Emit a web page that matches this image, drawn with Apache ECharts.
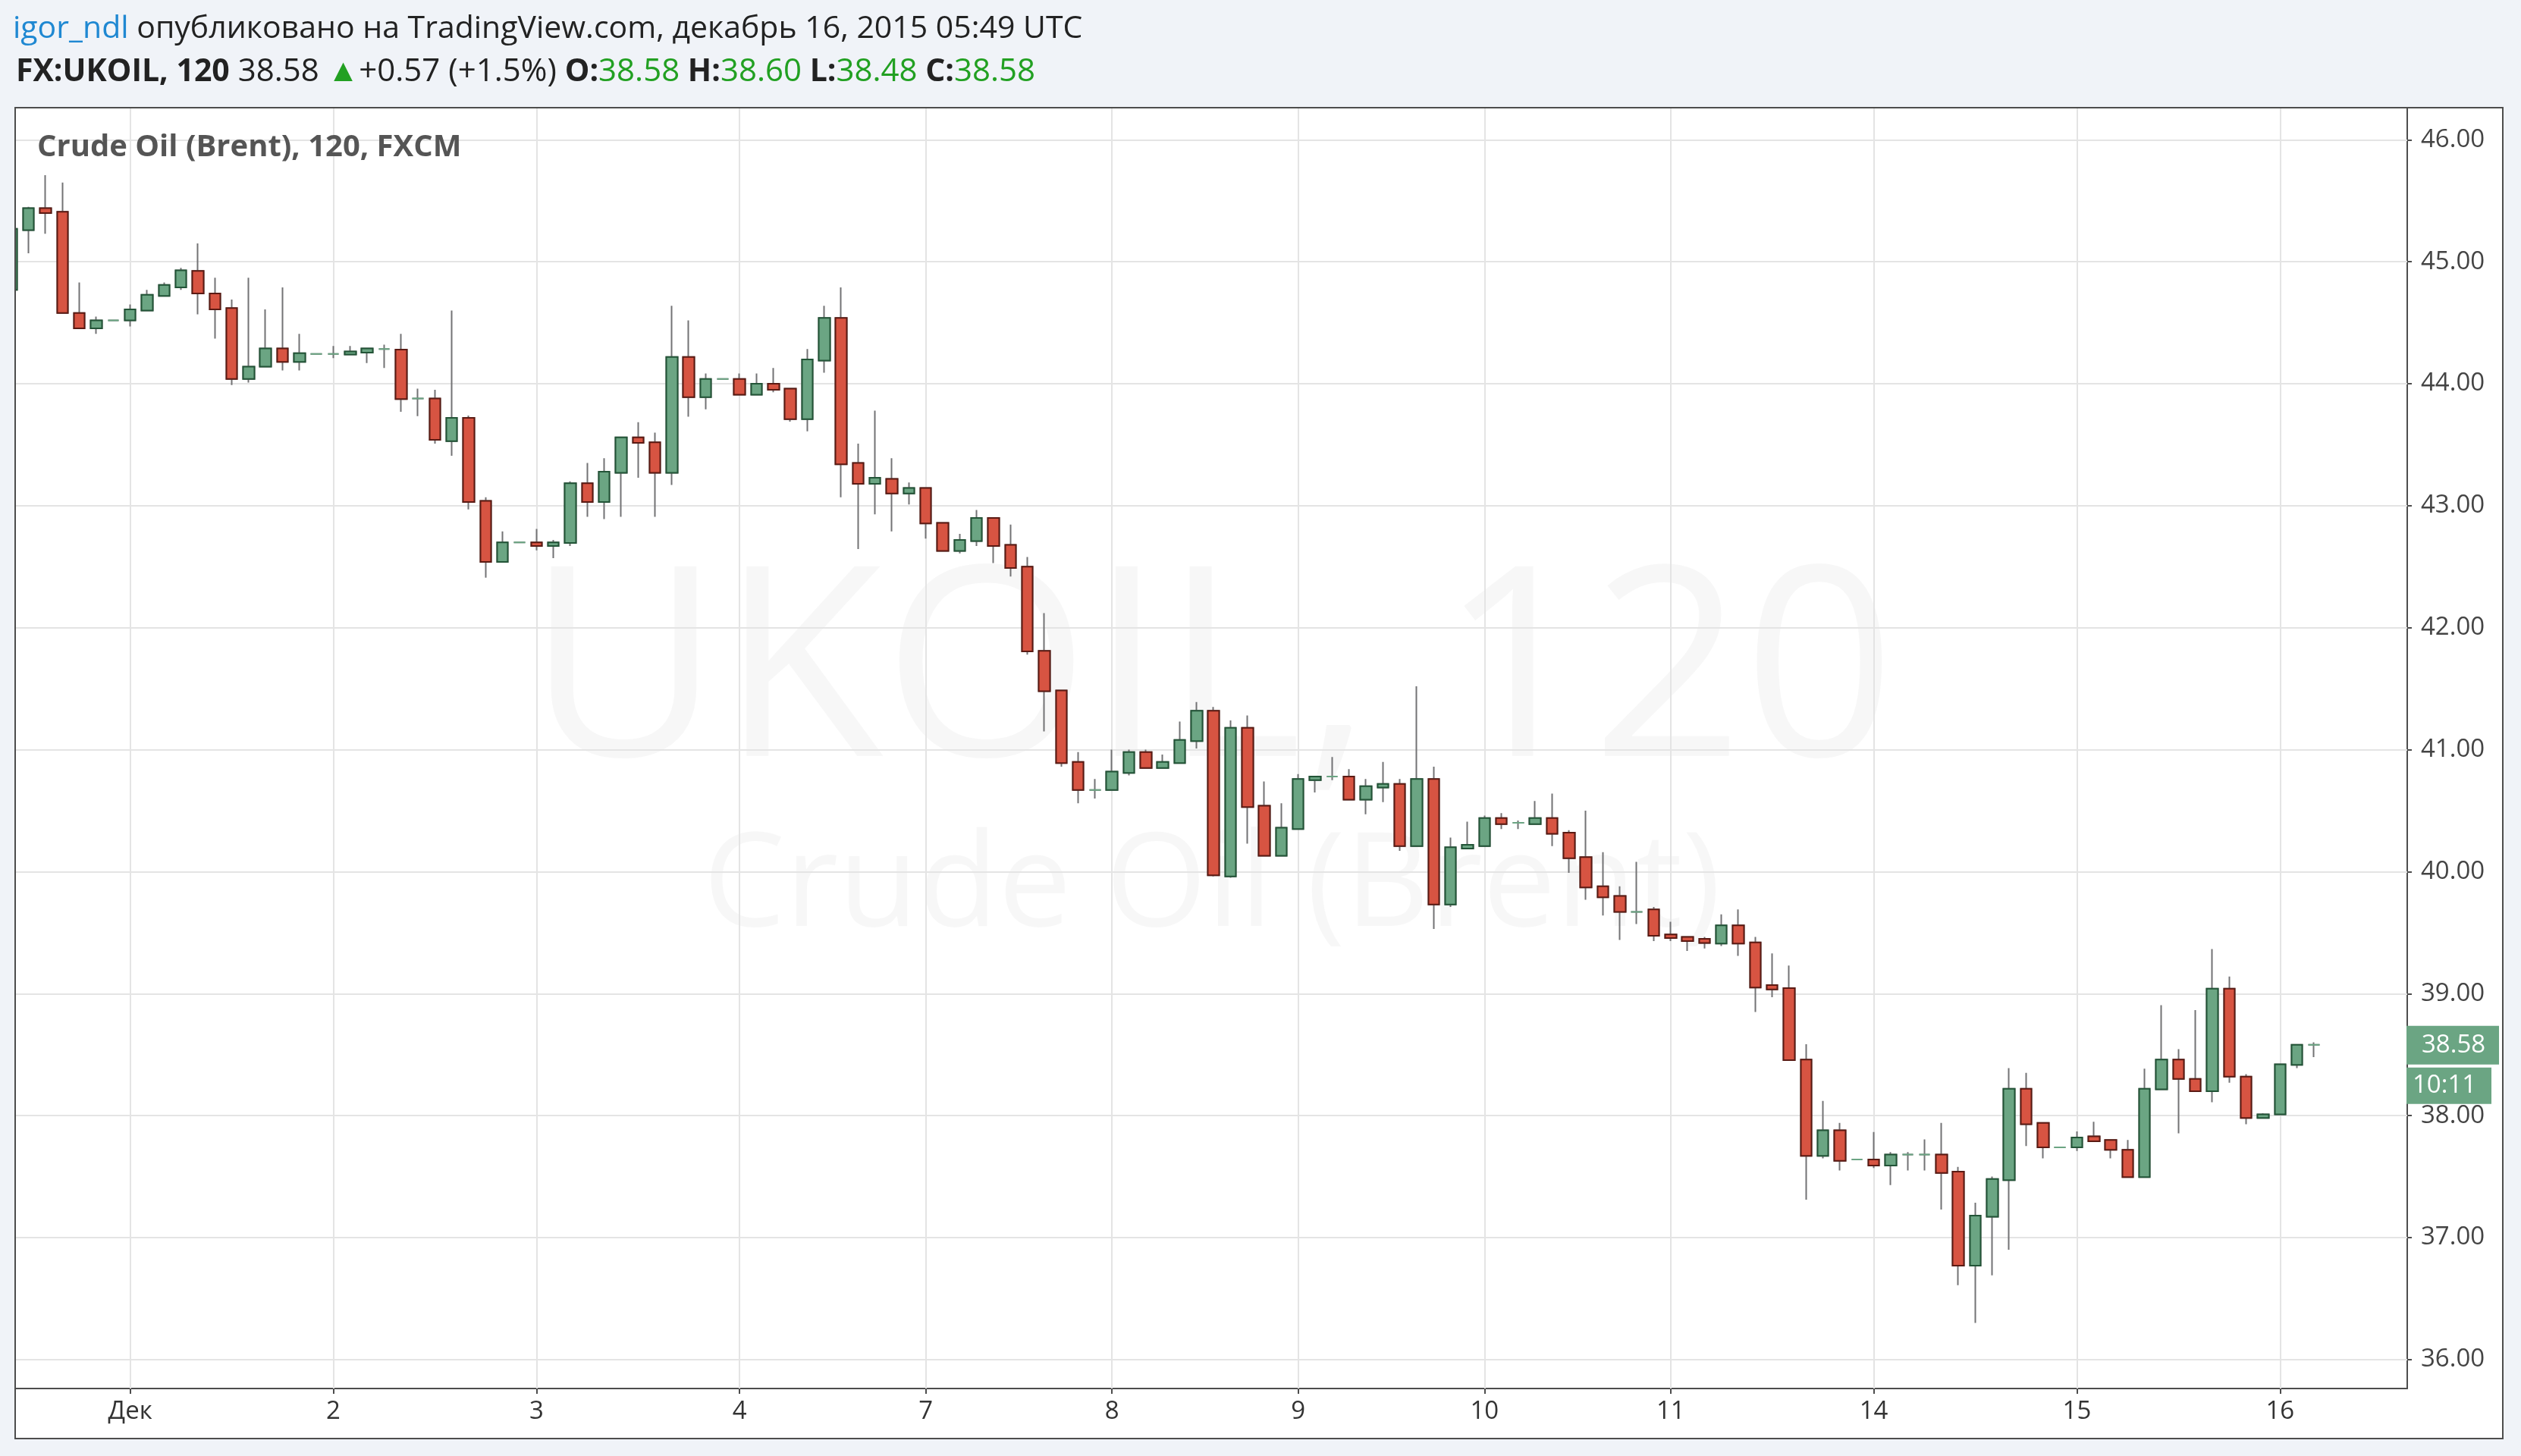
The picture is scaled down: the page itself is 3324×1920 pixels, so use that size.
<!DOCTYPE html>
<html>
<head>
<meta charset="utf-8">
<script src="https://cdn.jsdelivr.net/npm/echarts@6/dist/echarts.min.js"></script>
<style>
html,body{margin:0;padding:0;background:#f0f3f8;}
#c{width:3324px;height:1920px;}
</style>
</head>
<body>
<div id="c"></div>
<script>
// ---- data ----
const dayLabels   = ['Дек','2','3','4','7','8','9','10','11','14','15','16'];
const dayStartBar = [7,19,31,43,54,65,76,87,98,110,122,134];
const yTicks      = [36,37,38,39,40,41,42,43,44,45,46];

const opens = [
44.77,45.26,45.44,45.41,44.58,44.455,44.52,44.52,44.60,44.72,
44.79,44.925,44.74,44.62,44.04,44.14,44.29,44.18,44.245,44.245,
44.24,44.255,44.285,44.28,43.88,43.88,43.53,43.72,43.04,42.54,
42.70,42.70,42.67,42.695,43.185,43.03,43.27,43.56,43.52,43.27,
44.22,43.89,44.04,44.04,43.91,44.00,43.96,43.71,44.19,44.54,
43.35,43.18,43.22,43.10,43.145,42.86,42.63,42.71,42.90,42.68,
42.50,41.81,41.485,40.90,40.67,40.67,40.81,40.98,40.85,40.89,
41.07,41.32,39.96,41.18,40.54,40.13,40.35,40.75,40.78,40.78,
40.59,40.69,40.72,40.21,40.76,39.73,40.19,40.21,40.44,40.40,
40.39,40.44,40.32,40.12,39.88,39.80,39.67,39.69,39.485,39.465,
39.45,39.41,39.56,39.42,39.07,39.045,38.46,37.67,37.88,37.64,
37.64,37.59,37.68,37.68,37.68,37.54,36.77,37.17,37.47,38.22,
37.94,37.74,37.74,37.83,37.80,37.72,37.495,38.215,38.46,38.30,
38.20,39.04,38.32,37.98,38.01,38.415,38.58];
const highs = [
45.33,45.45,45.71,45.65,44.83,44.55,44.52,44.65,44.77,44.83,
44.95,45.15,44.87,44.69,44.87,44.61,44.79,44.41,44.245,44.31,
44.31,44.29,44.32,44.41,43.96,43.95,44.60,43.74,43.07,42.79,
42.70,42.81,42.72,43.20,43.35,43.39,43.56,43.685,43.60,44.64,
44.52,44.085,44.04,44.085,44.085,44.13,43.96,44.285,44.64,44.79,
43.51,43.78,43.39,43.19,43.15,42.86,42.77,42.965,42.90,42.845,
42.58,42.12,41.49,40.98,40.76,41.00,41.00,41.00,40.96,41.23,
41.39,41.35,41.24,41.28,40.74,40.56,40.80,40.78,40.94,40.84,
40.76,40.90,40.76,41.52,40.86,40.28,40.41,40.46,40.48,40.42,
40.58,40.64,40.34,40.50,40.16,39.88,40.08,39.71,39.59,39.47,
39.465,39.65,39.69,39.465,39.33,39.23,38.585,38.12,37.94,37.64,
37.865,37.70,37.70,37.805,37.94,37.58,37.285,37.50,38.39,38.35,
37.94,37.74,37.87,37.95,37.80,37.80,38.385,38.905,38.545,38.865,
39.365,39.14,38.34,38.02,38.42,38.58,38.60];
const lows = [
44.72,45.07,45.23,44.58,44.455,44.41,44.52,44.47,44.60,44.72,
44.77,44.57,44.37,43.99,44.01,44.14,44.11,44.11,44.245,44.21,
44.24,44.17,44.13,43.77,43.735,43.51,43.41,42.97,42.41,42.54,
42.70,42.635,42.57,42.67,42.91,42.89,42.91,43.23,42.91,43.17,
43.73,43.79,44.04,43.91,43.91,43.93,43.69,43.61,44.09,43.07,
42.645,42.93,42.79,43.01,42.73,42.63,42.61,42.67,42.53,42.42,
41.78,41.15,40.86,40.56,40.60,40.67,40.79,40.85,40.85,40.89,
41.01,39.96,39.95,40.23,40.13,40.13,40.35,40.65,40.75,40.59,
40.47,40.57,40.17,40.21,39.53,39.71,40.19,40.21,40.35,40.35,
40.39,40.21,39.99,39.77,39.64,39.44,39.57,39.43,39.43,39.35,
39.37,39.39,39.31,38.85,38.97,38.455,37.31,37.65,37.55,37.64,
37.57,37.43,37.55,37.55,37.23,36.61,36.30,36.69,36.90,37.75,
37.65,37.74,37.71,37.79,37.65,37.495,37.495,38.215,37.855,38.20,
38.11,38.27,37.93,37.98,38.01,38.39,38.48];
const closes = [
45.27,45.44,45.40,44.58,44.455,44.52,44.52,44.61,44.73,44.81,
44.93,44.74,44.61,44.04,44.14,44.29,44.18,44.25,44.245,44.245,
44.265,44.29,44.285,43.875,43.88,43.54,43.72,43.03,42.54,42.70,
42.70,42.67,42.70,43.185,43.03,43.28,43.56,43.515,43.27,44.22,
43.89,44.04,44.04,43.91,44.00,43.95,43.71,44.20,44.54,43.34,
43.18,43.23,43.10,43.145,42.855,42.63,42.72,42.90,42.67,42.49,
41.805,41.48,40.89,40.67,40.67,40.82,40.98,40.85,40.90,41.08,
41.32,39.97,41.18,40.53,40.13,40.36,40.76,40.78,40.78,40.59,
40.70,40.72,40.21,40.76,39.73,40.20,40.22,40.44,40.39,40.40,
40.44,40.31,40.11,39.87,39.79,39.67,39.67,39.475,39.455,39.43,
39.415,39.56,39.41,39.05,39.035,38.455,37.67,37.88,37.63,37.64,
37.59,37.68,37.68,37.68,37.53,36.77,37.18,37.48,38.22,37.93,
37.74,37.74,37.82,37.79,37.72,37.495,38.22,38.46,38.30,38.20,
39.04,38.32,37.98,38.01,38.42,38.58,38.58];
const lastPrice = 38.58;
const timeLeft  = '10:11';
const barIndex = opens.map((_, i) => i);   // one category per 2-hour bar

// ---- styles ----
const FONT = '"Open Sans", sans-serif';
const PAGE = '#f0f3f8';
const UP = '#6ba583', UP_B = '#225437', DN = '#d75442', DN_B = '#5b1a13', WICK = '#737375';
const GRID_L = 21, GRID_R = 3174, GRID_T = 142, GRID_B = 1831;
const BAR_STEP = 22.32, X_MIN = 0.25;

const wickData = barIndex.map(i => [i, opens[i], closes[i], lows[i], highs[i]]);
const bodyData = barIndex.map(i => [i, opens[i], closes[i], Math.min(opens[i], closes[i]), Math.max(opens[i], closes[i])]);

const chart = echarts.init(document.getElementById('c'), null, {renderer: 'canvas'});

const baseGraphic = [
  {id: 'frameFill', type: 'rect', z: -100, shape: {x: 20, y: 142, width: 3280, height: 1755}, style: {fill: '#ffffff'}},
  {id: 'wm1', type: 'text', z: -50, style: {x: 1597, y: 897, text: 'UKOIL, 120', align: 'center', verticalAlign: 'middle', font: '350px ' + FONT, fill: 'rgba(0,0,0,0.032)'}},
  {id: 'wm2', type: 'text', z: -50, style: {x: 1598, y: 1172, text: 'Crude Oil (Brent)', align: 'center', verticalAlign: 'middle', font: '172px ' + FONT, fill: 'rgba(0,0,0,0.032)'}},
  {id: 'leftCover', type: 'rect', z: 99, shape: {x: 0, y: 130, width: 20, height: 1780}, style: {fill: PAGE}},
  {id: 'frame', type: 'rect', z: 100, shape: {x: 20, y: 142, width: 3280, height: 1755}, style: {fill: null, stroke: '#4d4d4d', lineWidth: 2}},
  {id: 'title', type: 'text', z: 50, style: {x: 49, y: 195, text: 'Crude Oil (Brent), 120, FXCM', verticalAlign: 'middle', font: 'bold 40px ' + FONT, fill: '#555555'}},
  {id: 'hdr1', type: 'text', z: 50, style: {
    x: 17, y: 38, verticalAlign: 'middle',
    text: '{u|igor_ndl}{t| опубликовано на TradingView.com, декабрь 16, 2015 05:49 UTC}',
    rich: {
      u: {fill: '#1f88d2', fontSize: 41, fontFamily: FONT},
      t: {fill: '#222222', fontSize: 41, fontFamily: FONT}
    }
  }},
  {id: 'hdr2', type: 'text', z: 50, style: {
    x: 21, y: 95, verticalAlign: 'middle',
    text: '{b|FX:UKOIL, 120}{n| 38.58 }{g|▲}{n|+0.57 (+1.5%) }{b|O:}{g|38.58}{b| H:}{g|38.60}{b| L:}{g|38.48}{b| C:}{g|38.58}',
    rich: {
      b: {fill: '#222222', fontSize: 41, fontFamily: FONT, fontWeight: 'bold'},
      n: {fill: '#222222', fontSize: 42, fontFamily: FONT},
      g: {fill: '#22a022', fontSize: 42, fontFamily: FONT}
    }
  }}
];

const option = {
  backgroundColor: PAGE,
  animation: false,
  grid: {left: GRID_L, right: 3324 - GRID_R, top: GRID_T, bottom: 1920 - GRID_B, containLabel: false},
  xAxis: {
    type: 'value',
    min: X_MIN,
    max: X_MIN + (GRID_R - GRID_L) / BAR_STEP,
    axisLine: {show: true, onZero: false, lineStyle: {color: '#4d4d4d', width: 2}},
    axisTick: {show: true, customValues: dayStartBar, length: 7, lineStyle: {color: '#4d4d4d', width: 2}},
    axisLabel: {
      customValues: dayStartBar,
      formatter: v => dayLabels[dayStartBar.indexOf(Math.round(v))],
      fontSize: 33, fontFamily: FONT, color: '#333333', margin: 14
    },
    splitLine: {show: false}
  },
  yAxis: {
    type: 'value',
    position: 'right',
    min: 35.7625,
    max: 46.2636,
    axisLine: {show: true, lineStyle: {color: '#4d4d4d', width: 2}},
    axisTick: {show: true, customValues: yTicks, length: 6, lineStyle: {color: '#4d4d4d', width: 2}},
    axisLabel: {
      customValues: yTicks,
      formatter: v => Number(v).toFixed(2),
      fontSize: 33, fontFamily: FONT, color: '#444444', margin: 18
    },
    splitLine: {show: false}
  },
  series: [
    {
      name: 'wick', type: 'candlestick', z: 2, clip: true, barWidth: 15,
      data: wickData,
      itemStyle: {color: 'transparent', color0: 'transparent', borderColor: WICK, borderColor0: WICK, borderColorDoji: WICK, borderWidth: 2},
      emphasis: {disabled: true},
      markLine: {
        silent: true, z: 1, symbol: ['none', 'none'], animation: false,
        label: {show: false},
        lineStyle: {color: '#e4e4e4', width: 2, type: 'solid'},
        emphasis: {disabled: true},
        data: yTicks.map(v => ({yAxis: v})).concat(dayStartBar.map(v => ({xAxis: v})))
      }
    },
    {
      name: 'body', type: 'candlestick', z: 3, clip: true, barWidth: 15,
      data: bodyData,
      itemStyle: {color: UP, color0: DN, borderColor: UP_B, borderColor0: DN_B, borderColorDoji: UP, borderWidth: 2},
      emphasis: {disabled: true}
    }
  ],
  graphic: baseGraphic
};

chart.setOption(option);

// price tag on the right axis, positioned through the axis scale
const py = chart.convertToPixel({yAxisIndex: 0}, lastPrice);
chart.setOption({
  graphic: baseGraphic.concat([
    {id: 'pBox', type: 'rect', z: 120, shape: {x: 3173, y: py - 25, width: 122, height: 51}, style: {fill: UP}},
    {id: 'pTxt', type: 'text', z: 121, style: {x: 3193, y: py + 1, text: lastPrice.toFixed(2), verticalAlign: 'middle', font: '33px ' + FONT, fill: '#ffffff'}},
    {id: 'tBox', type: 'rect', z: 120, shape: {x: 3173, y: py + 30, width: 112, height: 48}, style: {fill: UP}},
    {id: 'tTxt', type: 'text', z: 121, style: {x: 3181, y: py + 54, text: timeLeft, verticalAlign: 'middle', font: '33px ' + FONT, fill: '#ffffff'}}
  ])
});
</script>
</body>
</html>
